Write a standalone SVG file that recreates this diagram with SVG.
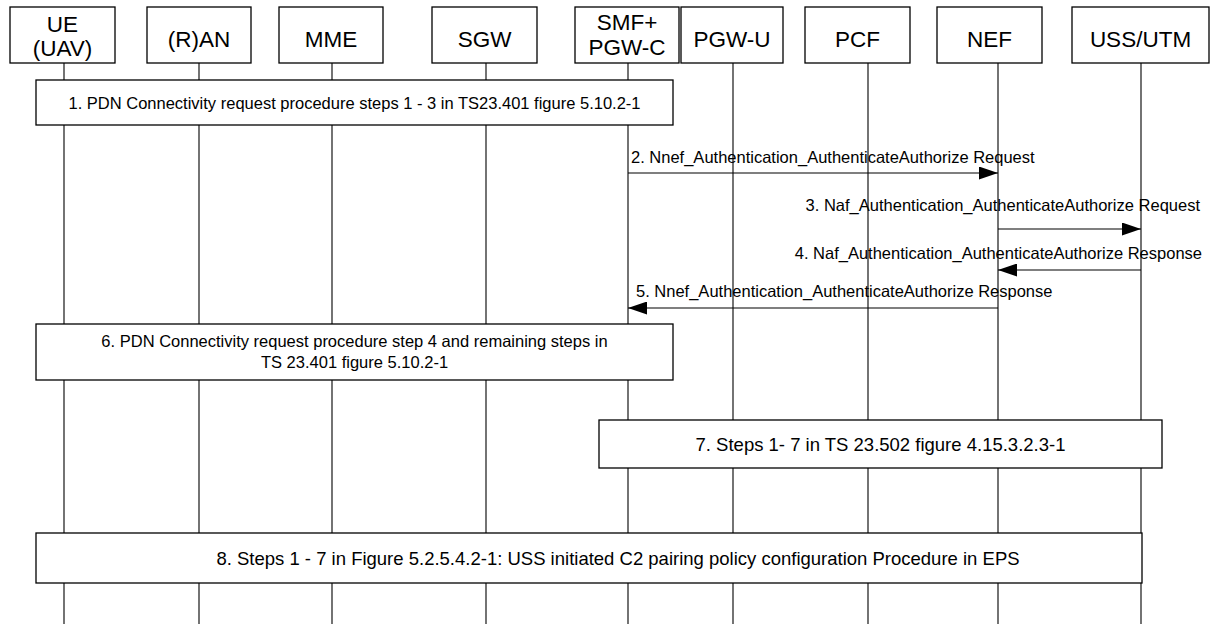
<svg xmlns="http://www.w3.org/2000/svg" width="1210" height="624" viewBox="0 0 1210 624">
<style>
  .bg{fill:#ffffff}
  .box{fill:#ffffff;stroke:#000000;stroke-width:1.3}
  .life{stroke:#000000;stroke-width:1.1;fill:none}
  .msg{stroke:#000000;stroke-width:1.1;fill:none}
  .hd{font-family:"Liberation Sans",Arial,sans-serif;font-size:22.5px;fill:#000000;text-anchor:middle}
  .lbl{font-family:"Liberation Sans",Arial,sans-serif;font-size:16.5px;fill:#000000}
  .stp{font-family:"Liberation Sans",Arial,sans-serif;font-size:16.5px;fill:#000000;text-anchor:middle}
  .stp2{font-family:"Liberation Sans",Arial,sans-serif;font-size:18.5px;fill:#000000;text-anchor:middle}
</style>
<defs>
  <marker id="ah" viewBox="0 0 19 13" refX="19" refY="6.5" markerWidth="19" markerHeight="13" markerUnits="userSpaceOnUse" orient="auto">
    <path d="M0,0 L19,6.5 L0,13 Z" fill="#000000"/>
  </marker>
</defs>
<rect class="bg" x="0" y="0" width="1210" height="624"/>

<g id="ue">
  <line class="life" x1="64" y1="63" x2="64" y2="624"/>
  <rect class="box" x="10" y="7" width="105" height="56"/>
  <text class="hd" x="62.5" y="32">UE</text>
  <text class="hd" x="62.5" y="56">(UAV)</text>
</g>
<g id="ran">
  <line class="life" x1="199" y1="63" x2="199" y2="624"/>
  <rect class="box" x="147" y="7" width="104" height="56"/>
  <text class="hd" x="199" y="47">(R)AN</text>
</g>
<g id="mme">
  <line class="life" x1="332" y1="63" x2="332" y2="624"/>
  <rect class="box" x="279" y="7" width="104" height="56"/>
  <text class="hd" x="331" y="47">MME</text>
</g>
<g id="sgw">
  <line class="life" x1="486" y1="63" x2="486" y2="624"/>
  <rect class="box" x="432" y="7" width="105" height="56"/>
  <text class="hd" x="484.5" y="47">SGW</text>
</g>
<g id="smf">
  <line class="life" x1="628" y1="63" x2="628" y2="624"/>
  <rect class="box" x="575" y="7" width="104" height="56"/>
  <text class="hd" x="627" y="30">SMF+</text>
  <text class="hd" x="627" y="55">PGW-C</text>
</g>
<g id="pgwu">
  <line class="life" x1="733" y1="63" x2="733" y2="624"/>
  <rect class="box" x="681" y="7" width="102" height="56"/>
  <text class="hd" x="732" y="47">PGW-U</text>
</g>
<g id="pcf">
  <line class="life" x1="868" y1="63" x2="868" y2="624"/>
  <rect class="box" x="805" y="7" width="105" height="56"/>
  <text class="hd" x="857.5" y="47">PCF</text>
</g>
<g id="nef">
  <line class="life" x1="998" y1="63" x2="998" y2="624"/>
  <rect class="box" x="937" y="7" width="105" height="56"/>
  <text class="hd" x="989.5" y="47">NEF</text>
</g>
<g id="uss">
  <line class="life" x1="1141" y1="63" x2="1141" y2="624"/>
  <rect class="box" x="1072" y="7" width="137" height="56"/>
  <text class="hd" x="1140.5" y="47">USS/UTM</text>
</g>

<g id="step1">
  <rect class="box" x="36" y="80" width="637" height="45"/>
  <text class="stp" x="354.5" y="109">1. PDN Connectivity request procedure steps 1 - 3 in TS23.401 figure 5.10.2-1</text>
</g>
<g id="step6">
  <rect class="box" x="36" y="324" width="637" height="56"/>
  <text class="stp" x="354.5" y="347">6. PDN Connectivity request procedure step 4 and remaining steps in</text>
  <text class="stp" x="354.5" y="368">TS 23.401 figure 5.10.2-1</text>
</g>
<g id="step7">
  <rect class="box" x="599" y="420" width="563" height="48"/>
  <text class="stp2" x="880.5" y="451">7. Steps 1- 7 in TS 23.502 figure 4.15.3.2.3-1</text>
</g>
<g id="step8">
  <rect class="box" x="36" y="533" width="1106" height="50"/>
  <text class="stp2" x="618" y="565">8.  Steps 1 - 7 in Figure 5.2.5.4.2-1: USS initiated C2 pairing policy configuration Procedure in EPS</text>
</g>

<g id="connectors">
  <line class="msg" x1="628" y1="173" x2="998" y2="173" marker-end="url(#ah)"/>
  <text class="lbl" x="631" y="163">2. Nnef_Authentication_AuthenticateAuthorize Request</text>
  <line class="msg" x1="998" y1="229" x2="1141" y2="229" marker-end="url(#ah)"/>
  <text class="lbl" x="1200" y="211" text-anchor="end">3. Naf_Authentication_AuthenticateAuthorize Request</text>
  <line class="msg" x1="1141" y1="270" x2="998" y2="270" marker-end="url(#ah)"/>
  <text class="lbl" x="1202" y="259" text-anchor="end">4. Naf_Authentication_AuthenticateAuthorize Response</text>
  <line class="msg" x1="998" y1="308" x2="628" y2="308" marker-end="url(#ah)"/>
  <text class="lbl" x="636" y="297">5. Nnef_Authentication_AuthenticateAuthorize Response</text>
</g>
</svg>
